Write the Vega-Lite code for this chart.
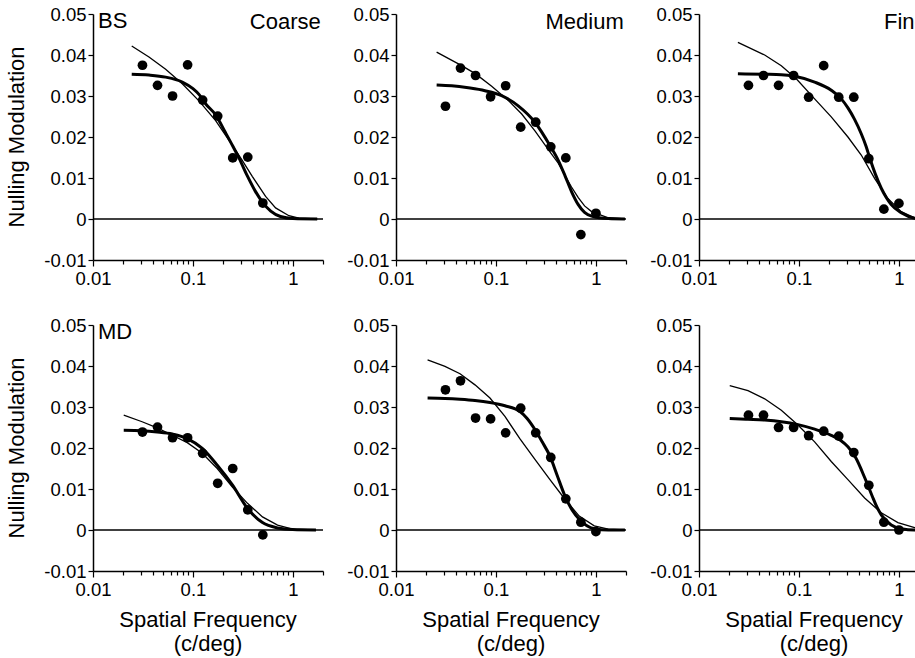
{
  "$schema": "https://vega.github.io/schema/vega-lite/v6.json",
  "background": "white",
  "padding": {"left": 5, "right": 5, "top": 5, "bottom": 2},
  "config": {
    "font": "Liberation Sans",
    "view": {"stroke": null},
    "mark": {"invalid": null},
    "axis": {"grid": false, "domainColor": "black", "domainWidth": 1.5, "tickColor": "black", "tickWidth": 1.2, "labelColor": "black", "labelFont": "Liberation Sans", "labelFontSize": 18.5, "title": null}
  },
  "data": {"values": [
    {"k":"panel","s":"BS","c":"Coarse"},{"k":"panel","s":"BS","c":"Medium"},{"k":"panel","s":"BS","c":"Fine"},
    {"k":"panel","s":"MD","c":"Coarse"},{"k":"panel","s":"MD","c":"Medium"},{"k":"panel","s":"MD","c":"Fine"},

    {"k":"pt","s":"BS","c":"Coarse","f":0.03125,"y":0.0375},{"k":"pt","s":"BS","c":"Coarse","f":0.0442,"y":0.0326},{"k":"pt","s":"BS","c":"Coarse","f":0.0625,"y":0.030},{"k":"pt","s":"BS","c":"Coarse","f":0.0884,"y":0.0376},{"k":"pt","s":"BS","c":"Coarse","f":0.125,"y":0.029},{"k":"pt","s":"BS","c":"Coarse","f":0.1768,"y":0.0251},{"k":"pt","s":"BS","c":"Coarse","f":0.25,"y":0.0149},{"k":"pt","s":"BS","c":"Coarse","f":0.3536,"y":0.0151},{"k":"pt","s":"BS","c":"Coarse","f":0.5,"y":0.0039},

    {"k":"pt","s":"BS","c":"Medium","f":0.03125,"y":0.0275},{"k":"pt","s":"BS","c":"Medium","f":0.0442,"y":0.0368},{"k":"pt","s":"BS","c":"Medium","f":0.0625,"y":0.035},{"k":"pt","s":"BS","c":"Medium","f":0.0884,"y":0.0298},{"k":"pt","s":"BS","c":"Medium","f":0.125,"y":0.0325},{"k":"pt","s":"BS","c":"Medium","f":0.1768,"y":0.0224},{"k":"pt","s":"BS","c":"Medium","f":0.25,"y":0.0236},{"k":"pt","s":"BS","c":"Medium","f":0.3536,"y":0.0176},{"k":"pt","s":"BS","c":"Medium","f":0.5,"y":0.0149},{"k":"pt","s":"BS","c":"Medium","f":0.7071,"y":-0.0038},{"k":"pt","s":"BS","c":"Medium","f":1.0,"y":0.0014},

    {"k":"pt","s":"BS","c":"Fine","f":0.03125,"y":0.0326},{"k":"pt","s":"BS","c":"Fine","f":0.0442,"y":0.035},{"k":"pt","s":"BS","c":"Fine","f":0.0625,"y":0.0326},{"k":"pt","s":"BS","c":"Fine","f":0.0884,"y":0.035},{"k":"pt","s":"BS","c":"Fine","f":0.125,"y":0.0297},{"k":"pt","s":"BS","c":"Fine","f":0.1768,"y":0.0374},{"k":"pt","s":"BS","c":"Fine","f":0.25,"y":0.0297},{"k":"pt","s":"BS","c":"Fine","f":0.3536,"y":0.0297},{"k":"pt","s":"BS","c":"Fine","f":0.5,"y":0.0147},{"k":"pt","s":"BS","c":"Fine","f":0.7071,"y":0.0024},{"k":"pt","s":"BS","c":"Fine","f":1.0,"y":0.0038},

    {"k":"pt","s":"MD","c":"Coarse","f":0.03125,"y":0.0239},{"k":"pt","s":"MD","c":"Coarse","f":0.0442,"y":0.0251},{"k":"pt","s":"MD","c":"Coarse","f":0.0625,"y":0.0225},{"k":"pt","s":"MD","c":"Coarse","f":0.0884,"y":0.0225},{"k":"pt","s":"MD","c":"Coarse","f":0.125,"y":0.0187},{"k":"pt","s":"MD","c":"Coarse","f":0.1768,"y":0.0114},{"k":"pt","s":"MD","c":"Coarse","f":0.25,"y":0.015},{"k":"pt","s":"MD","c":"Coarse","f":0.3536,"y":0.0049},{"k":"pt","s":"MD","c":"Coarse","f":0.5,"y":-0.0012},

    {"k":"pt","s":"MD","c":"Medium","f":0.03125,"y":0.0342},{"k":"pt","s":"MD","c":"Medium","f":0.0442,"y":0.0364},{"k":"pt","s":"MD","c":"Medium","f":0.0625,"y":0.0273},{"k":"pt","s":"MD","c":"Medium","f":0.0884,"y":0.0271},{"k":"pt","s":"MD","c":"Medium","f":0.125,"y":0.0237},{"k":"pt","s":"MD","c":"Medium","f":0.1768,"y":0.0297},{"k":"pt","s":"MD","c":"Medium","f":0.25,"y":0.0237},{"k":"pt","s":"MD","c":"Medium","f":0.3536,"y":0.0177},{"k":"pt","s":"MD","c":"Medium","f":0.5,"y":0.0076},{"k":"pt","s":"MD","c":"Medium","f":0.7071,"y":0.0019},{"k":"pt","s":"MD","c":"Medium","f":1.0,"y":-0.0004},

    {"k":"pt","s":"MD","c":"Fine","f":0.03125,"y":0.028},{"k":"pt","s":"MD","c":"Fine","f":0.0442,"y":0.028},{"k":"pt","s":"MD","c":"Fine","f":0.0625,"y":0.025},{"k":"pt","s":"MD","c":"Fine","f":0.0884,"y":0.025},{"k":"pt","s":"MD","c":"Fine","f":0.125,"y":0.023},{"k":"pt","s":"MD","c":"Fine","f":0.1768,"y":0.0241},{"k":"pt","s":"MD","c":"Fine","f":0.25,"y":0.0229},{"k":"pt","s":"MD","c":"Fine","f":0.3536,"y":0.0189},{"k":"pt","s":"MD","c":"Fine","f":0.5,"y":0.0109},{"k":"pt","s":"MD","c":"Fine","f":0.7071,"y":0.0019},{"k":"pt","s":"MD","c":"Fine","f":1.0,"y":0.0},

    {"k":"thick","s":"BS","c":"Coarse","f":0.0244,"y":0.0353},{"k":"thick","s":"BS","c":"Coarse","f":0.0363,"y":0.0351},{"k":"thick","s":"BS","c":"Coarse","f":0.0533,"y":0.0346},{"k":"thick","s":"BS","c":"Coarse","f":0.0782,"y":0.0334},{"k":"thick","s":"BS","c":"Coarse","f":0.1,"y":0.0318},{"k":"thick","s":"BS","c":"Coarse","f":0.1148,"y":0.0304},{"k":"thick","s":"BS","c":"Coarse","f":0.135,"y":0.028},{"k":"thick","s":"BS","c":"Coarse","f":0.1686,"y":0.0254},{"k":"thick","s":"BS","c":"Coarse","f":0.21,"y":0.0212},{"k":"thick","s":"BS","c":"Coarse","f":0.25,"y":0.0178},{"k":"thick","s":"BS","c":"Coarse","f":0.29,"y":0.0148},{"k":"thick","s":"BS","c":"Coarse","f":0.35,"y":0.0105},{"k":"thick","s":"BS","c":"Coarse","f":0.42,"y":0.0068},{"k":"thick","s":"BS","c":"Coarse","f":0.5,"y":0.004},{"k":"thick","s":"BS","c":"Coarse","f":0.6,"y":0.0019},{"k":"thick","s":"BS","c":"Coarse","f":0.75,"y":0.0006},{"k":"thick","s":"BS","c":"Coarse","f":1.0,"y":0.0001},{"k":"thick","s":"BS","c":"Coarse","f":1.75,"y":0},

    {"k":"thin","s":"BS","c":"Coarse","f":0.0244,"y":0.0422},{"k":"thin","s":"BS","c":"Coarse","f":0.0363,"y":0.0395},{"k":"thin","s":"BS","c":"Coarse","f":0.0533,"y":0.0365},{"k":"thin","s":"BS","c":"Coarse","f":0.0782,"y":0.033},{"k":"thin","s":"BS","c":"Coarse","f":0.1148,"y":0.0288},{"k":"thin","s":"BS","c":"Coarse","f":0.1686,"y":0.024},{"k":"thin","s":"BS","c":"Coarse","f":0.2474,"y":0.018},{"k":"thin","s":"BS","c":"Coarse","f":0.3113,"y":0.0143},{"k":"thin","s":"BS","c":"Coarse","f":0.392,"y":0.0104},{"k":"thin","s":"BS","c":"Coarse","f":0.533,"y":0.0055},{"k":"thin","s":"BS","c":"Coarse","f":0.671,"y":0.0027},{"k":"thin","s":"BS","c":"Coarse","f":0.912,"y":0.0008},{"k":"thin","s":"BS","c":"Coarse","f":1.148,"y":0.0002},{"k":"thin","s":"BS","c":"Coarse","f":1.75,"y":0},

    {"k":"thick","s":"BS","c":"Medium","f":0.0255,"y":0.0327},{"k":"thick","s":"BS","c":"Medium","f":0.0361,"y":0.0325},{"k":"thick","s":"BS","c":"Medium","f":0.0529,"y":0.032},{"k":"thick","s":"BS","c":"Medium","f":0.0776,"y":0.0313},{"k":"thick","s":"BS","c":"Medium","f":0.114,"y":0.0301},{"k":"thick","s":"BS","c":"Medium","f":0.167,"y":0.0276},{"k":"thick","s":"BS","c":"Medium","f":0.2455,"y":0.0236},{"k":"thick","s":"BS","c":"Medium","f":0.347,"y":0.0179},{"k":"thick","s":"BS","c":"Medium","f":0.42,"y":0.0143},{"k":"thick","s":"BS","c":"Medium","f":0.49,"y":0.0106},{"k":"thick","s":"BS","c":"Medium","f":0.57,"y":0.0067},{"k":"thick","s":"BS","c":"Medium","f":0.666,"y":0.0035},{"k":"thick","s":"BS","c":"Medium","f":0.77,"y":0.0016},{"k":"thick","s":"BS","c":"Medium","f":0.905,"y":0.0007},{"k":"thick","s":"BS","c":"Medium","f":1.33,"y":0.0001},{"k":"thick","s":"BS","c":"Medium","f":1.95,"y":0},

    {"k":"thin","s":"BS","c":"Medium","f":0.0255,"y":0.0407},{"k":"thin","s":"BS","c":"Medium","f":0.0454,"y":0.0374},{"k":"thin","s":"BS","c":"Medium","f":0.0626,"y":0.0354},{"k":"thin","s":"BS","c":"Medium","f":0.0906,"y":0.0324},{"k":"thin","s":"BS","c":"Medium","f":0.133,"y":0.0289},{"k":"thin","s":"BS","c":"Medium","f":0.181,"y":0.0256},{"k":"thin","s":"BS","c":"Medium","f":0.2455,"y":0.0215},{"k":"thin","s":"BS","c":"Medium","f":0.347,"y":0.0164},{"k":"thin","s":"BS","c":"Medium","f":0.42,"y":0.0136},{"k":"thin","s":"BS","c":"Medium","f":0.49,"y":0.0106},{"k":"thin","s":"BS","c":"Medium","f":0.57,"y":0.0078},{"k":"thin","s":"BS","c":"Medium","f":0.666,"y":0.0052},{"k":"thin","s":"BS","c":"Medium","f":0.77,"y":0.0032},{"k":"thin","s":"BS","c":"Medium","f":0.905,"y":0.0018},{"k":"thin","s":"BS","c":"Medium","f":1.33,"y":0.0003},{"k":"thin","s":"BS","c":"Medium","f":1.95,"y":0},

    {"k":"thick","s":"BS","c":"Fine","f":0.0245,"y":0.0354},{"k":"thick","s":"BS","c":"Fine","f":0.0454,"y":0.0353},{"k":"thick","s":"BS","c":"Fine","f":0.0666,"y":0.0352},{"k":"thick","s":"BS","c":"Fine","f":0.0906,"y":0.0348},{"k":"thick","s":"BS","c":"Fine","f":0.1435,"y":0.0334},{"k":"thick","s":"BS","c":"Fine","f":0.2104,"y":0.0314},{"k":"thick","s":"BS","c":"Fine","f":0.265,"y":0.0293},{"k":"thick","s":"BS","c":"Fine","f":0.309,"y":0.0271},{"k":"thick","s":"BS","c":"Fine","f":0.36,"y":0.0243},{"k":"thick","s":"BS","c":"Fine","f":0.42,"y":0.0208},{"k":"thick","s":"BS","c":"Fine","f":0.47,"y":0.0177},{"k":"thick","s":"BS","c":"Fine","f":0.509,"y":0.015},{"k":"thick","s":"BS","c":"Fine","f":0.58,"y":0.011},{"k":"thick","s":"BS","c":"Fine","f":0.666,"y":0.0075},{"k":"thick","s":"BS","c":"Fine","f":0.75,"y":0.0052},{"k":"thick","s":"BS","c":"Fine","f":0.838,"y":0.0035},{"k":"thick","s":"BS","c":"Fine","f":1.055,"y":0.0015},{"k":"thick","s":"BS","c":"Fine","f":1.435,"y":0.0002},{"k":"thick","s":"BS","c":"Fine","f":1.8,"y":0},

    {"k":"thin","s":"BS","c":"Fine","f":0.0245,"y":0.0431},{"k":"thin","s":"BS","c":"Fine","f":0.0454,"y":0.04},{"k":"thin","s":"BS","c":"Fine","f":0.0666,"y":0.0374},{"k":"thin","s":"BS","c":"Fine","f":0.094,"y":0.0342},{"k":"thin","s":"BS","c":"Fine","f":0.1435,"y":0.0293},{"k":"thin","s":"BS","c":"Fine","f":0.2104,"y":0.0249},{"k":"thin","s":"BS","c":"Fine","f":0.309,"y":0.02},{"k":"thin","s":"BS","c":"Fine","f":0.42,"y":0.0156},{"k":"thin","s":"BS","c":"Fine","f":0.571,"y":0.0099},{"k":"thin","s":"BS","c":"Fine","f":0.776,"y":0.005},{"k":"thin","s":"BS","c":"Fine","f":1.055,"y":0.0018},{"k":"thin","s":"BS","c":"Fine","f":1.435,"y":0.0003},{"k":"thin","s":"BS","c":"Fine","f":1.8,"y":0},

    {"k":"thick","s":"MD","c":"Coarse","f":0.0203,"y":0.0243},{"k":"thick","s":"MD","c":"Coarse","f":0.031,"y":0.0242},{"k":"thick","s":"MD","c":"Coarse","f":0.0439,"y":0.0239},{"k":"thick","s":"MD","c":"Coarse","f":0.0621,"y":0.0234},{"k":"thick","s":"MD","c":"Coarse","f":0.0877,"y":0.0223},{"k":"thick","s":"MD","c":"Coarse","f":0.124,"y":0.0199},{"k":"thick","s":"MD","c":"Coarse","f":0.175,"y":0.0158},{"k":"thick","s":"MD","c":"Coarse","f":0.248,"y":0.011},{"k":"thick","s":"MD","c":"Coarse","f":0.351,"y":0.0053},{"k":"thick","s":"MD","c":"Coarse","f":0.496,"y":0.0018},{"k":"thick","s":"MD","c":"Coarse","f":0.702,"y":0.0005},{"k":"thick","s":"MD","c":"Coarse","f":0.993,"y":0.0001},{"k":"thick","s":"MD","c":"Coarse","f":1.7,"y":0},

    {"k":"thin","s":"MD","c":"Coarse","f":0.0203,"y":0.028},{"k":"thin","s":"MD","c":"Coarse","f":0.031,"y":0.0264},{"k":"thin","s":"MD","c":"Coarse","f":0.0439,"y":0.0249},{"k":"thin","s":"MD","c":"Coarse","f":0.0621,"y":0.0231},{"k":"thin","s":"MD","c":"Coarse","f":0.0877,"y":0.0213},{"k":"thin","s":"MD","c":"Coarse","f":0.124,"y":0.0187},{"k":"thin","s":"MD","c":"Coarse","f":0.175,"y":0.015},{"k":"thin","s":"MD","c":"Coarse","f":0.248,"y":0.0105},{"k":"thin","s":"MD","c":"Coarse","f":0.351,"y":0.0065},{"k":"thin","s":"MD","c":"Coarse","f":0.496,"y":0.0032},{"k":"thin","s":"MD","c":"Coarse","f":0.702,"y":0.0012},{"k":"thin","s":"MD","c":"Coarse","f":0.993,"y":0.0002},{"k":"thin","s":"MD","c":"Coarse","f":1.7,"y":0},

    {"k":"thick","s":"MD","c":"Medium","f":0.0207,"y":0.0322},{"k":"thick","s":"MD","c":"Medium","f":0.0309,"y":0.0321},{"k":"thick","s":"MD","c":"Medium","f":0.0437,"y":0.0319},{"k":"thick","s":"MD","c":"Medium","f":0.0617,"y":0.0316},{"k":"thick","s":"MD","c":"Medium","f":0.0871,"y":0.0311},{"k":"thick","s":"MD","c":"Medium","f":0.123,"y":0.0303},{"k":"thick","s":"MD","c":"Medium","f":0.174,"y":0.0289},{"k":"thick","s":"MD","c":"Medium","f":0.205,"y":0.0272},{"k":"thick","s":"MD","c":"Medium","f":0.2455,"y":0.0245},{"k":"thick","s":"MD","c":"Medium","f":0.29,"y":0.0215},{"k":"thick","s":"MD","c":"Medium","f":0.347,"y":0.018},{"k":"thick","s":"MD","c":"Medium","f":0.41,"y":0.0133},{"k":"thick","s":"MD","c":"Medium","f":0.49,"y":0.0083},{"k":"thick","s":"MD","c":"Medium","f":0.58,"y":0.0048},{"k":"thick","s":"MD","c":"Medium","f":0.681,"y":0.0026},{"k":"thick","s":"MD","c":"Medium","f":0.962,"y":0.0003},{"k":"thick","s":"MD","c":"Medium","f":1.33,"y":0},{"k":"thick","s":"MD","c":"Medium","f":1.95,"y":0},

    {"k":"thin","s":"MD","c":"Medium","f":0.0207,"y":0.0415},{"k":"thin","s":"MD","c":"Medium","f":0.0309,"y":0.0399},{"k":"thin","s":"MD","c":"Medium","f":0.0437,"y":0.0381},{"k":"thin","s":"MD","c":"Medium","f":0.0617,"y":0.0354},{"k":"thin","s":"MD","c":"Medium","f":0.0871,"y":0.0322},{"k":"thin","s":"MD","c":"Medium","f":0.123,"y":0.0277},{"k":"thin","s":"MD","c":"Medium","f":0.174,"y":0.0222},{"k":"thin","s":"MD","c":"Medium","f":0.2455,"y":0.0172},{"k":"thin","s":"MD","c":"Medium","f":0.347,"y":0.0123},{"k":"thin","s":"MD","c":"Medium","f":0.49,"y":0.0075},{"k":"thin","s":"MD","c":"Medium","f":0.681,"y":0.0034},{"k":"thin","s":"MD","c":"Medium","f":0.962,"y":0.001},{"k":"thin","s":"MD","c":"Medium","f":1.33,"y":0.0002},{"k":"thin","s":"MD","c":"Medium","f":1.95,"y":0},

    {"k":"thick","s":"MD","c":"Fine","f":0.0203,"y":0.0272},{"k":"thick","s":"MD","c":"Fine","f":0.0309,"y":0.027},{"k":"thick","s":"MD","c":"Fine","f":0.0454,"y":0.0268},{"k":"thick","s":"MD","c":"Fine","f":0.0666,"y":0.0264},{"k":"thick","s":"MD","c":"Fine","f":0.0977,"y":0.0257},{"k":"thick","s":"MD","c":"Fine","f":0.1435,"y":0.0246},{"k":"thick","s":"MD","c":"Fine","f":0.2104,"y":0.0231},{"k":"thick","s":"MD","c":"Fine","f":0.26,"y":0.0219},{"k":"thick","s":"MD","c":"Fine","f":0.309,"y":0.0203},{"k":"thick","s":"MD","c":"Fine","f":0.37,"y":0.0176},{"k":"thick","s":"MD","c":"Fine","f":0.454,"y":0.0128},{"k":"thick","s":"MD","c":"Fine","f":0.54,"y":0.0083},{"k":"thick","s":"MD","c":"Fine","f":0.6,"y":0.0057},{"k":"thick","s":"MD","c":"Fine","f":0.666,"y":0.0037},{"k":"thick","s":"MD","c":"Fine","f":0.838,"y":0.0012},{"k":"thick","s":"MD","c":"Fine","f":1.055,"y":0.0003},{"k":"thick","s":"MD","c":"Fine","f":1.435,"y":0},{"k":"thick","s":"MD","c":"Fine","f":1.9,"y":0},

    {"k":"thin","s":"MD","c":"Fine","f":0.0203,"y":0.0352},{"k":"thin","s":"MD","c":"Fine","f":0.0309,"y":0.034},{"k":"thin","s":"MD","c":"Fine","f":0.0454,"y":0.032},{"k":"thin","s":"MD","c":"Fine","f":0.0666,"y":0.0292},{"k":"thin","s":"MD","c":"Fine","f":0.0977,"y":0.0256},{"k":"thin","s":"MD","c":"Fine","f":0.1435,"y":0.0215},{"k":"thin","s":"MD","c":"Fine","f":0.2104,"y":0.0167},{"k":"thin","s":"MD","c":"Fine","f":0.309,"y":0.0123},{"k":"thin","s":"MD","c":"Fine","f":0.454,"y":0.0078},{"k":"thin","s":"MD","c":"Fine","f":0.666,"y":0.0042},{"k":"thin","s":"MD","c":"Fine","f":0.977,"y":0.0018},{"k":"thin","s":"MD","c":"Fine","f":1.435,"y":0.0006},{"k":"thin","s":"MD","c":"Fine","f":1.9,"y":0.0002}
  ]},
  "facet": {
    "row": {"field": "s", "type": "nominal", "sort": ["BS", "MD"],
      "header": {"title": null, "labelOrient": "left", "labelAngle": -90, "labelExpr": "'Nulling Modulation'", "labelFont": "Liberation Sans", "labelFontSize": 22, "labelColor": "black", "labelPadding": 4}},
    "column": {"field": "c", "type": "nominal", "sort": ["Coarse", "Medium", "Fine"],
      "header": {"title": null, "labelOrient": "bottom", "labelExpr": "['Spatial Frequency', '(c/deg)']", "labelFont": "Liberation Sans", "labelFontSize": 22, "labelLineHeight": 24, "labelColor": "black", "labelPadding": 11}}
  },
  "spacing": {"row": 28, "column": 18},
  "resolve": {"axis": {"x": "independent", "y": "independent"}},
  "spec": {
    "width": 230,
    "height": 246,
    "layer": [
      {"transform": [{"filter": "datum.k == 'panel'"}],
       "mark": {"type": "rule", "color": "black", "strokeWidth": 1.5},
       "encoding": {
         "x": {"datum": 0.01, "type": "quantitative", "scale": {"type": "log", "domain": [0.01, 2], "nice": false}},
         "x2": {"datum": 2},
         "y": {"datum": 0, "type": "quantitative", "scale": {"domain": [-0.01, 0.05], "nice": false, "zero": false}}}},
      {"transform": [{"filter": "datum.k == 'thin'"}],
       "mark": {"type": "line", "color": "black", "strokeWidth": 1.3},
       "encoding": {
         "x": {"field": "f", "type": "quantitative"},
         "y": {"field": "y", "type": "quantitative"}}},
      {"transform": [{"filter": "datum.k == 'thick'"}],
       "mark": {"type": "line", "color": "black", "strokeWidth": 3, "interpolate": "monotone"},
       "encoding": {
         "x": {"field": "f", "type": "quantitative"},
         "y": {"field": "y", "type": "quantitative"}}},
      {"transform": [{"filter": "datum.k == 'pt'"}],
       "mark": {"type": "circle", "color": "black", "opacity": 1, "size": 95},
       "encoding": {
         "x": {"field": "f", "type": "quantitative",
           "axis": {"values": [0.01,0.02,0.03,0.04,0.05,0.06,0.07,0.08,0.09,0.1,0.2,0.3,0.4,0.5,0.6,0.7,0.8,0.9,1,2],
             "labelExpr": "indexof([0.01,0.1,1], datum.value) >= 0 ? format(datum.value, '~g') : ''",
             "tickSize": {"condition": {"test": "indexof([0.01,0.1,1], datum.value) >= 0", "value": 6}, "value": 4},
             "labelPadding": 3, "labelOverlap": false, "labelFlush": false}},
         "y": {"field": "y", "type": "quantitative",
           "axis": {"values": [-0.01,0,0.01,0.02,0.03,0.04,0.05],
             "labelExpr": "datum.value == 0 ? '0' : datum.value < 0 ? '-0.01' : format(datum.value, '.2f')",
             "tickSize": 5, "labelPadding": 2, "labelOverlap": false, "labelFlush": false}}}},
      {"transform": [{"filter": "datum.k == 'panel' && datum.c == 'Coarse'"}],
       "mark": {"type": "text", "align": "left", "baseline": "top", "fontSize": 22, "color": "black", "dx": 5, "dy": -3},
       "encoding": {"x": {"datum": 0.01, "type": "quantitative"}, "y": {"datum": 0.05, "type": "quantitative"}, "text": {"field": "s"}}},
      {"transform": [{"filter": "datum.k == 'panel' && datum.s == 'BS'"}],
       "mark": {"type": "text", "align": "right", "baseline": "top", "fontSize": 22, "color": "black", "dy": -2},
       "encoding": {"x": {"datum": 1.9, "type": "quantitative"}, "y": {"datum": 0.05, "type": "quantitative"}, "text": {"field": "c"}}}
    ]
  }
}
